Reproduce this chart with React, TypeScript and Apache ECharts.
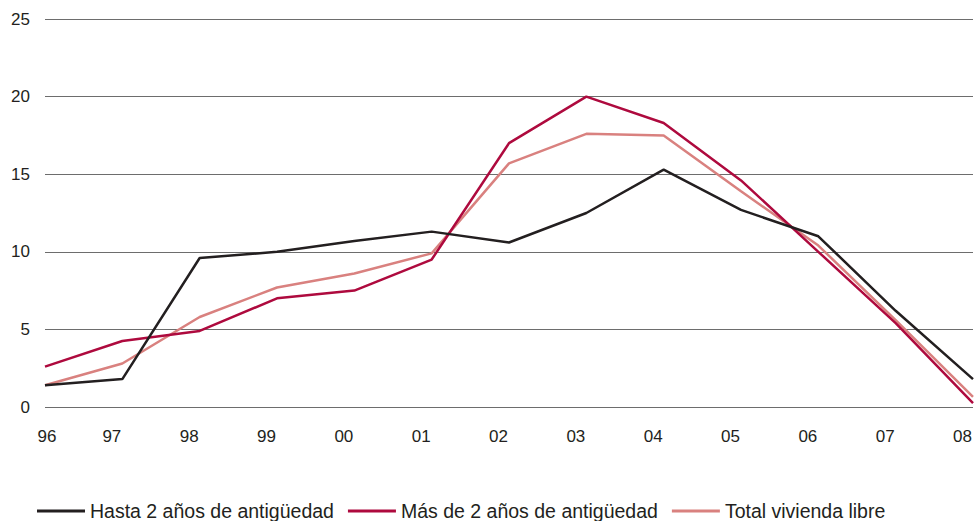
import React, { useEffect, useRef } from "react";
import * as echarts from "echarts";

const categories = ["96", "97", "98", "99", "00", "01", "02", "03", "04", "05", "06", "07", "08"];
const hasta2 = [1.4, 1.8, 9.6, 10.0, 10.7, 11.3, 10.6, 12.5, 15.3, 12.7, 11.0, 6.2, 1.8];
const mas2 = [2.6, 4.25, 4.9, 7.0, 7.5, 9.5, 17.0, 20.0, 18.3, 14.6, 10.0, 5.4, 0.25];
const total = [1.4, 2.8, 5.8, 7.7, 8.6, 9.9, 15.7, 17.6, 17.5, 13.9, 10.4, 5.6, 0.65];
const yTicks = { min: 0, max: 25, interval: 5 };
const seriesNames = ["Hasta 2 años de antigüedad", "Más de 2 años de antigüedad", "Total vivienda libre"];
const colors = ["#231f20", "#ae0a3e", "#d9817f"];

export default function App() {
  const ref = useRef<HTMLDivElement>(null);
  useEffect(() => {
    if (!ref.current) return;
    const chart = echarts.init(ref.current, null, { renderer: "svg" });
    const data = [hasta2, mas2, total];
    const font = "'Liberation Sans', Arial, sans-serif";
    chart.setOption({
      animation: false,
      backgroundColor: "#ffffff",
      grid: { left: 45, right: 3, top: 19, bottom: 114, containLabel: false },
      legend: {
        bottom: 0,
        left: 37,
        padding: 0,
        itemWidth: 48,
        itemHeight: 3,
        itemGap: 14,
        icon: "rect",
        data: seriesNames,
        textStyle: {
          fontFamily: font,
          fontSize: 19.5,
          color: "#231f20",
        },
      },
      xAxis: {
        type: "category",
        data: categories.map((c, i) =>
          i === 0 ? { value: c, textStyle: { align: "center", padding: [0, 0, 0, 4] } } : c
        ),
        boundaryGap: false,
        axisLine: { show: false },
        axisTick: { show: false },
        axisLabel: {
          color: "#231f20",
          fontSize: 17,
          margin: 21,
          align: "right",
          padding: [0, 1, 0, 0],
          fontFamily: font,
        },
      },
      yAxis: {
        type: "value",
        min: yTicks.min,
        max: yTicks.max,
        interval: yTicks.interval,
        axisLine: { show: false },
        axisTick: { show: false },
        axisLabel: {
          color: "#231f20",
          fontSize: 17,
          margin: 15,
          fontFamily: font,
        },
        splitLine: { lineStyle: { color: "#6d6d6d", width: 1 } },
      },
      series: seriesNames.map((name, i) => ({
        name,
        type: "line",
        data: data[i],
        symbol: "none",
        color: colors[i],
        lineStyle: { color: colors[i], width: 2.5 },
        z: 3 - i,
      })),
    });
    return () => chart.dispose();
  }, []);
  return <div ref={ref} style={{ width: 976, height: 521, position: "absolute", left: 0, top: 0 }} />;
}
